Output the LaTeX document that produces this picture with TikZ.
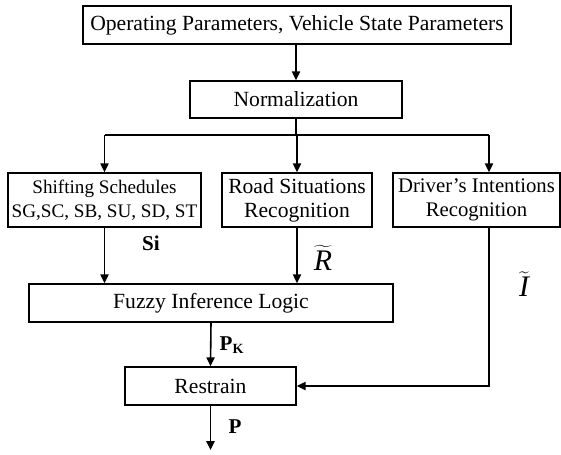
\documentclass[tikz,border=0pt]{standalone}
\usepackage{fontspec}
\setmainfont{Liberation Serif}
\usetikzlibrary{arrows.meta,positioning,calc}

\begin{document}
\begin{tikzpicture}[x=0.02cm,y=-0.02cm,
  blk/.style={draw,line width=0.9pt,minimum height=0.76cm,inner sep=0pt,align=center,font=\fontsize{12.3}{13.5}\selectfont},
  flow/.style={line width=0.9pt,-{Triangle[length=5pt,width=4.6pt]}},
  lbl/.style={font=\fontsize{12}{14}\selectfont\bfseries}]
\useasboundingbox (0,0) rectangle (561,454);
\node[blk,minimum width=8.56cm] (input) at (297,25) {Operating Parameters, Vehicle State Parameters};
\node[blk,minimum width=4.24cm,minimum height=0.74cm] (norm) at (296,99.5) {Normalization};
\node[blk,minimum width=3.86cm,minimum height=1.08cm,font=\fontsize{10.9}{13.5}\selectfont] (shift) at (104.5,200) {Shifting Schedules\\SG,SC, SB, SU, SD, ST};
\node[blk,minimum width=3cm,minimum height=1.08cm] (road) at (297,200) {Road Situations\\Recognition};
\node[blk,minimum width=3.34cm,minimum height=1.08cm,font=\fontsize{11.8}{13.5}\selectfont] (driver) at (476.5,200) {Driver’s Intentions\\Recognition};
\node[blk,minimum width=7.28cm] (fuzzy) at (211,303) {Fuzzy Inference Logic};
\node[blk,minimum width=3.42cm] (restrain) at (210.5,386) {Restrain};
\coordinate (split) at (296,135);
\coordinate (out) at (210.5,450);
\path ([xshift=0.25cm]driver.north) coordinate (dtop) ([xshift=0.25cm]driver.south) coordinate (dbot);
\draw[flow] (norm.north |- input.south) -- (norm.north);
\draw[line width=0.9pt] (norm.south) -- (split);
\draw[line width=0.9pt] (shift.north |- split) -- (dtop |- split);
\foreach \n in {shift.north,road.north,dtop}{\draw[flow] (\n |- split) -- (\n);}
\draw[flow] (shift.south) -- (shift.south |- fuzzy.north);
\draw[flow] (road.south) -- (road.south |- fuzzy.north);
\draw[flow] (fuzzy.south) -- (restrain.north);
\draw[flow] (dbot) |- (restrain.east);
\draw[flow] (restrain.south) -- (out);
\node[lbl] (si) at (151,243) {Si};
\node[font=\fontsize{17}{20}\selectfont] (rt) at (323,258) {$\widetilde{\textit{R}}$};
\node[font=\fontsize{17}{20}\selectfont] (it) at (524,284) {$\widetilde{\textit{I}}$};
\node[lbl] (pk) at (232,345) {P\textsubscript{K}};
\node[lbl] (p) at (235,427) {P};
\end{tikzpicture}
\end{document}
